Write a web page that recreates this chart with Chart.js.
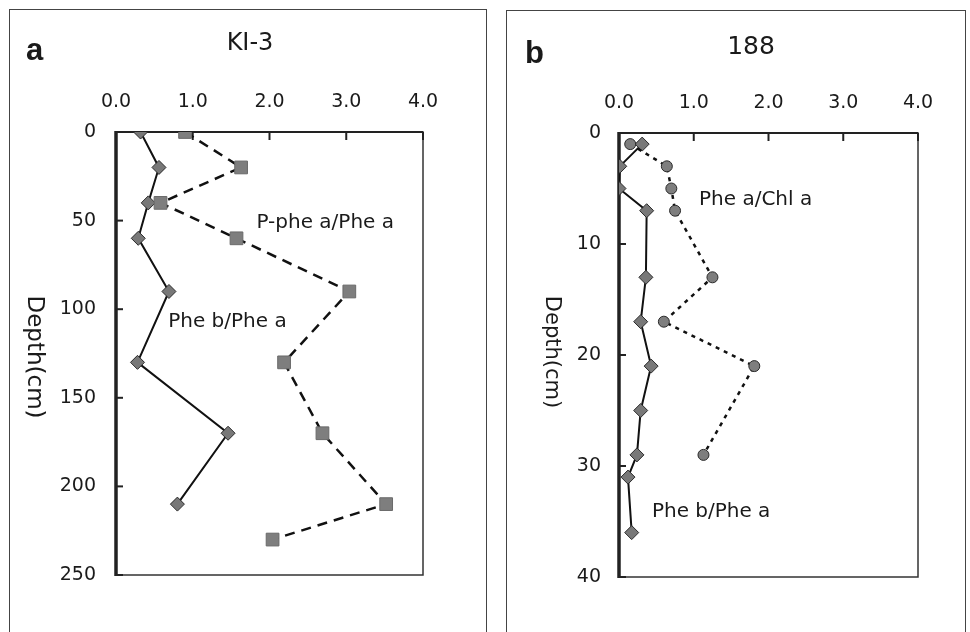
<!DOCTYPE html>
<html>
<head>
<meta charset="utf-8">
<script src="https://cdn.jsdelivr.net/npm/chart.js@4.4.0/dist/chart.umd.min.js"></script>
<style>
  body { margin: 0; width: 970px; height: 632px; overflow: hidden; background: #fff; position: relative; }
  .frame { position: absolute; border: 1px solid #444; }
  #frameA { left: 9px; top: 9px; width: 476px; height: 660px; }
  #frameB { left: 506px; top: 10px; width: 458px; height: 660px; }
  canvas { position: absolute; top: 0; }
  #chartA { left: 0; }
  #chartB { left: 490px; }
</style>
</head>
<body>
<div class="frame" id="frameA"></div>
<div class="frame" id="frameB"></div>
<canvas id="chartA" width="490" height="632"></canvas>
<canvas id="chartB" width="480" height="632"></canvas>
<script>
// panel a : KI-3
const depthPhebA = [0, 20, 40, 60, 90, 130, 170, 210];
const phebPheaA = [0.32, 0.56, 0.42, 0.29, 0.69, 0.28, 1.46, 0.80];
const depthPpheA = [0, 20, 40, 60, 90, 130, 170, 210, 230];
const ppheaPheaA = [0.90, 1.63, 0.58, 1.57, 3.04, 2.19, 2.69, 3.52, 2.04];

// panel b : 188
const depthPhebB = [1, 3, 5, 7, 13, 17, 21, 25, 29, 31, 36];
const phebPheaB = [0.31, 0.01, 0.00, 0.37, 0.36, 0.29, 0.43, 0.29, 0.24, 0.12, 0.17];
const depthPheaB = [1, 3, 5, 7, 13, 17, 21, 29];
const pheaChlaB = [0.15, 0.64, 0.70, 0.75, 1.25, 0.60, 1.81, 1.13];

const xTicks = [0, 1, 2, 3, 4];
const yTicksA = [0, 50, 100, 150, 200, 250];
const yTicksB = [0, 10, 20, 30, 40];

const FONT = '"DejaVu Sans", sans-serif';
const INK = '#1a1a1a';

function pontos(xs, ys) {
  return xs.map((v, i) => ({ x: v, y: ys[i] }));
}

// frame, inner tick marks and the texts of each panel
const enfeite = {
  id: 'enfeite',
  beforeDatasetsDraw(chart, args, opts) {
    const ctx = chart.ctx;
    const a = chart.chartArea;
    const sx = chart.scales.x, sy = chart.scales.y;
    ctx.save();
    ctx.strokeStyle = '#333';
    ctx.lineWidth = 1.5;
    ctx.strokeRect(a.left, a.top, a.right - a.left, a.bottom - a.top);
    ctx.strokeStyle = '#222';
    ctx.lineWidth = 3.5;
    ctx.beginPath();
    ctx.moveTo(a.left, a.top - 1);
    ctx.lineTo(a.left, a.bottom + 1);
    ctx.stroke();
    ctx.lineWidth = 2;
    ctx.beginPath();
    ctx.moveTo(a.left, a.top);
    ctx.lineTo(a.right, a.top);
    ctx.stroke();
    ctx.lineWidth = 2;
    xTicks.forEach(v => {
      const px = sx.getPixelForValue(v);
      ctx.beginPath();
      ctx.moveTo(px, a.top);
      ctx.lineTo(px, a.top + 8);
      ctx.stroke();
    });
    opts.yTicks.forEach(v => {
      const py = sy.getPixelForValue(v);
      ctx.beginPath();
      ctx.moveTo(a.left, py);
      ctx.lineTo(a.left + 7, py);
      ctx.stroke();
    });
    ctx.restore();
  },
  afterDraw(chart, args, opts) {
    const ctx = chart.ctx;
    const sx = chart.scales.x, sy = chart.scales.y;
    ctx.save();
    ctx.fillStyle = INK;
    ctx.font = 'bold 31px "Liberation Sans", sans-serif';
    ctx.textAlign = 'left';
    ctx.textBaseline = 'alphabetic';
    ctx.fillText(opts.letra, opts.letraPos[0], opts.letraPos[1]);
    ctx.font = opts.tituloSize + 'px ' + FONT;
    ctx.textAlign = 'center';
    ctx.textBaseline = 'middle';
    ctx.fillText(opts.titulo, opts.tituloPos[0], opts.tituloPos[1]);
    ctx.save();
    ctx.translate(opts.eixoPos[0], opts.eixoPos[1]);
    ctx.rotate(Math.PI / 2);
    ctx.font = opts.eixoSize + 'px ' + FONT;
    ctx.fillText('Depth(cm)', 0, 0);
    ctx.restore();
    ctx.font = '20px ' + FONT;
    ctx.textAlign = 'left';
    opts.notas.forEach(n => {
      ctx.fillText(n.texto, sx.getPixelForValue(n.x), sy.getPixelForValue(n.y));
    });
    ctx.restore();
  }
};

function criarPainel(canvasId, datasets, yMax, yStep, yPad, padding, deco) {
  return new Chart(document.getElementById(canvasId), {
    type: 'scatter',
    data: { datasets: datasets },
    options: {
      responsive: false,
      animation: false,
      layout: { padding: padding },
      plugins: { legend: { display: false }, tooltip: { enabled: false }, enfeite: deco },
      scales: {
        x: {
          type: 'linear', position: 'top', min: 0, max: 4,
          grid: { display: false, drawTicks: false },
          border: { display: false },
          ticks: { stepSize: 1, autoSkip: false, padding: 19, color: INK, font: { family: FONT, size: 19 },
            callback: v => v.toFixed(1) },
          afterFit: s => { s.height = 60; s.paddingLeft = 0; s.paddingRight = 0; }
        },
        y: {
          type: 'linear', reverse: true, min: 0, max: yMax,
          grid: { display: false, drawTicks: false },
          border: { display: false },
          ticks: { stepSize: yStep, autoSkip: false, padding: yPad, color: INK, font: { family: FONT, size: 19 } },
          afterFit: s => { s.width = 60; s.paddingTop = 0; s.paddingBottom = 0; }
        }
      }
    },
    plugins: [enfeite]
  });
}

const graficoA = criarPainel('chartA', [
  {
    data: pontos(ppheaPheaA, depthPpheA),
    showLine: true, borderColor: '#111', borderWidth: 2.5, borderDash: [10, 7],
    pointStyle: 'rect', pointRadius: 9, pointBackgroundColor: '#7e7e7e',
    pointBorderColor: '#6a6a6a', pointBorderWidth: 1
  },
  {
    data: pontos(phebPheaA, depthPhebA),
    showLine: true, borderColor: '#111', borderWidth: 2,
    pointStyle: 'rectRot', pointRadius: 7, pointBackgroundColor: '#787878',
    pointBorderColor: '#2a2a2a', pointBorderWidth: 1
  }
], 250, 50, 20, { left: 56, right: 67, top: 72, bottom: 57 }, {
  letra: 'a', letraPos: [26, 60],
  titulo: 'KI-3', tituloPos: [250, 44], tituloSize: 24,
  eixoPos: [34, 357], eixoSize: 23,
  yTicks: yTicksA,
  notas: [
    { texto: 'P-phe a/Phe a', x: 1.83, y: 51 },
    { texto: 'Phe b/Phe a', x: 0.68, y: 107 }
  ]
});

const graficoB = criarPainel('chartB', [
  {
    data: pontos(pheaChlaB, depthPheaB),
    showLine: true, borderColor: '#111', borderWidth: 2.5, borderDash: [4, 5],
    pointStyle: 'circle', pointRadius: 5.5, pointBackgroundColor: '#7e7e7e',
    pointBorderColor: '#2a2a2a', pointBorderWidth: 1
  },
  {
    data: pontos(phebPheaB, depthPhebB),
    showLine: true, borderColor: '#111', borderWidth: 2,
    pointStyle: 'rectRot', pointRadius: 7, pointBackgroundColor: '#787878',
    pointBorderColor: '#2a2a2a', pointBorderWidth: 1
  }
], 40, 10, 18, { left: 69, right: 52, top: 73, bottom: 55 }, {
  letra: 'b', letraPos: [35, 63],
  titulo: '188', tituloPos: [261, 47], tituloSize: 25,
  eixoPos: [61, 352], eixoSize: 21,
  yTicks: yTicksB,
  notas: [
    { texto: 'Phe a/Chl a', x: 1.07, y: 6.0 },
    { texto: 'Phe b/Phe a', x: 0.44, y: 34.1 }
  ]
});
</script>
</body>
</html>
